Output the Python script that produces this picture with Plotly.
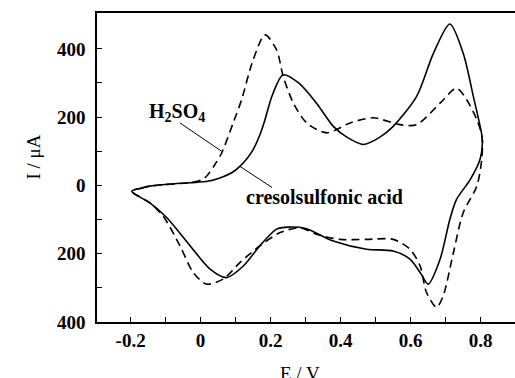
import plotly.graph_objects as go

# Cyclic voltammograms (E in V, I in µA), loop starts at -0.2 V going anodic
E_cresol = [-0.197, -0.17, -0.145, -0.097, -0.03, 0.02, 0.055, 0.09, 0.112, 0.135, 0.15, 0.17,
            0.184, 0.205, 0.236, 0.28, 0.331, 0.379, 0.42, 0.465, 0.51, 0.55, 0.617, 0.665,
            0.712, 0.75, 0.779, 0.803, 0.805, 0.798, 0.77, 0.731, 0.712, 0.684, 0.65, 0.627,
            0.598, 0.55, 0.474, 0.379, 0.3, 0.25, 0.217, 0.169, 0.122, 0.074, 0.027, -0.03,
            -0.097, -0.145, -0.197]
I_cresol = [-17, -8, -2, 3, 8, 12, 22, 38, 56, 82, 105, 150,
            193, 265, 324, 300, 241, 173, 140, 120, 140, 173, 261, 387,
            473, 387, 261, 149, 125, 76, 17, -41, -99, -216, -289, -255,
            -216, -192, -187, -163, -126, -122, -128, -177, -236, -270, -245, -177,
            -94, -51, -17]

E_h2so4 = [-0.197, -0.17, -0.145, -0.097, -0.03, 0.0, 0.017, 0.04, 0.06, 0.093, 0.117, 0.15,
           0.184, 0.217, 0.236, 0.265, 0.303, 0.36, 0.427, 0.493, 0.569, 0.617, 0.684,
           0.731, 0.76, 0.789, 0.803, 0.805, 0.803, 0.789, 0.75, 0.722, 0.693, 0.674,
           0.645, 0.627, 0.598, 0.55, 0.474, 0.398, 0.331, 0.284, 0.227, 0.169, 0.112,
           0.065, 0.017, -0.021, -0.059, -0.107, -0.145, -0.197]
I_h2so4 = [-17, -8, -2, 3, 8, 15, 27, 60, 95, 183, 251, 368,
           441, 397, 319, 241, 183, 154, 183, 198, 178, 178, 241,
           285, 251, 193, 149, 125, 76, -2, -80, -197, -323, -357,
           -313, -236, -187, -158, -158, -158, -143, -124, -138, -177, -226,
           -274, -289, -255, -177, -90, -51, -17]

x_tickvals = [-0.2, -0.1, 0, 0.1, 0.2, 0.3, 0.4, 0.5, 0.6, 0.7, 0.8]
x_ticktext = ["-0.2", "", "0", "", "0.2", "", "0.4", "", "0.6", "", "0.8"]
y_tickvals = [400, 300, 200, 100, 0, -100, -200, -300, -400]
y_ticktext = ["400", "", "200", "", "0", "", "200", "", "400"]

SERIF = "Liberation Serif, Times New Roman, serif"

fig = go.Figure()
fig.add_trace(go.Scatter(x=E_h2so4, y=I_h2so4, mode="lines",
                         line=dict(color="black", width=1.6, dash="8px,5px", shape="spline", smoothing=0.8),
                         name="H2SO4", showlegend=False))
fig.add_trace(go.Scatter(x=E_cresol, y=I_cresol, mode="lines",
                         line=dict(color="black", width=1.6, shape="spline", smoothing=0.8),
                         name="cresolsulfonic acid", showlegend=False))

# leader lines
fig.add_shape(type="line", x0=-0.059, y0=183, x1=0.06, y1=100, line=dict(color="black", width=1))
fig.add_shape(type="line", x0=0.112, y0=56, x1=0.204, y1=-6, line=dict(color="black", width=1))

fig.add_annotation(x=-0.068, y=213, text="<b>H<sub>2</sub>SO<sub>4</sub></b>", showarrow=False,
                   font=dict(family=SERIF, size=20, color="black"))
fig.add_annotation(x=0.355, y=-35, text="<b>cresolsulfonic acid</b>", showarrow=False,
                   font=dict(family=SERIF, size=20, color="black"))

# axis titles
fig.add_annotation(xref="paper", yref="paper", x=(20 - 97) / 418, y=(322 - 157) / 309,
                   text="I / μA", textangle=-90, showarrow=False,
                   font=dict(family=SERIF, size=19, color="black"))
fig.add_annotation(xref="paper", yref="paper", x=(300 - 97) / 418, y=(322 - 361) / 309,
                   yanchor="top", text="E / V", showarrow=False,
                   font=dict(family=SERIF, size=19, color="black"))

fig.update_xaxes(range=[-0.296, 0.898], tickmode="array", tickvals=x_tickvals,
                 ticktext=[f"<b>{t}</b>" if t else "" for t in x_ticktext],
                 ticks="inside", ticklen=5, tickcolor="black", showline=True, linecolor="black",
                 linewidth=1.5, mirror=True, showgrid=False, zeroline=False,
                 tickfont=dict(family=SERIF, size=19, color="black"))
fig.update_yaxes(range=[-400, 505], tickmode="array", tickvals=y_tickvals,
                 ticktext=[f"<b>{t}</b>" if t else "" for t in y_ticktext],
                 ticks="inside", ticklen=5, tickcolor="black", showline=True, linecolor="black",
                 linewidth=1.5, showgrid=False, zeroline=False, ticklabelstandoff=6,
                 tickfont=dict(family=SERIF, size=19, color="black"))

fig.update_layout(width=515, height=378, margin=dict(l=97, r=0, t=13, b=56),
                  plot_bgcolor="white", paper_bgcolor="white")

fig.write_html("out.html")
